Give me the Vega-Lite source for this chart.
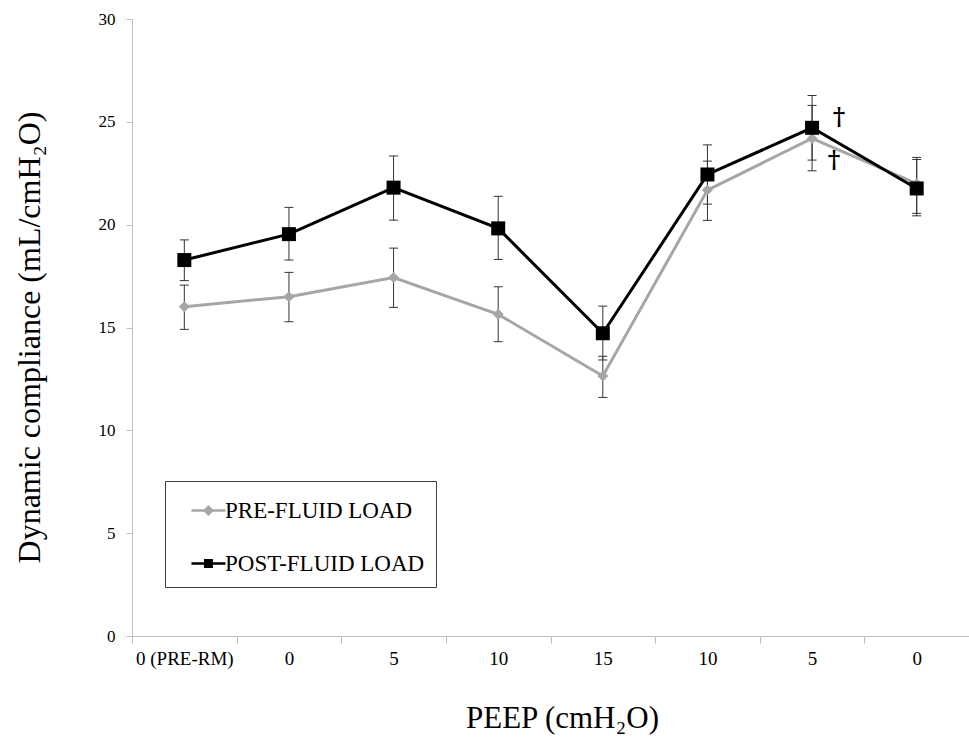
{
  "$schema": "https://vega.github.io/schema/vega-lite/v6.json",
  "width": 837,
  "height": 617,
  "autosize": {"type": "none"},
  "padding": {"left": 132, "top": 19, "right": 0, "bottom": 102},
  "background": "white",
  "config": {
    "view": {"stroke": null},
    "axis": {
      "labelFont": "Liberation Serif",
      "titleFont": "Liberation Serif",
      "labelColor": "#000000",
      "titleColor": "#000000",
      "domainColor": "#bfbfbf",
      "tickColor": "#bfbfbf",
      "grid": false,
      "titleFontWeight": "normal"
    },
    "axisY": {
      "labelFontSize": 17,
      "tickSize": 6,
      "labelPadding": 11,
      "titleFontSize": 32,
      "titleAngle": -90,
      "titleX": -93,
      "titleY": 318,
      "titleAlign": "center",
      "titleBaseline": "alphabetic"
    },
    "axisX": {
      "labelFontSize": 19,
      "tickSize": 7,
      "labelPadding": 6,
      "labelAngle": 0,
      "titleFontSize": 31,
      "titleX": 430,
      "titleY": 91,
      "titleAlign": "center",
      "titleBaseline": "alphabetic",
      "tickBand": "extent"
    }
  },
  "datasets": {
    "main": [
      {"step": 1, "series": "PRE-FLUID LOAD", "value": 16.01, "lo": 14.91, "hi": 17.06},
      {"step": 2, "series": "PRE-FLUID LOAD", "value": 16.5, "lo": 15.28, "hi": 17.68},
      {"step": 3, "series": "PRE-FLUID LOAD", "value": 17.43, "lo": 15.98, "hi": 18.86},
      {"step": 4, "series": "PRE-FLUID LOAD", "value": 15.64, "lo": 14.31, "hi": 16.98},
      {"step": 5, "series": "PRE-FLUID LOAD", "value": 12.64, "lo": 11.6, "hi": 13.6},
      {"step": 6, "series": "PRE-FLUID LOAD", "value": 21.68, "lo": 20.21, "hi": 23.09},
      {"step": 7, "series": "PRE-FLUID LOAD", "value": 24.19, "lo": 22.62, "hi": 25.8},
      {"step": 8, "series": "PRE-FLUID LOAD", "value": 22.0, "lo": 20.43, "hi": 23.27},
      {"step": 1, "series": "POST-FLUID LOAD", "value": 18.28, "lo": 17.28, "hi": 19.26},
      {"step": 2, "series": "POST-FLUID LOAD", "value": 19.54, "lo": 18.28, "hi": 20.84},
      {"step": 3, "series": "POST-FLUID LOAD", "value": 21.8, "lo": 20.22, "hi": 23.34},
      {"step": 4, "series": "POST-FLUID LOAD", "value": 19.82, "lo": 18.31, "hi": 21.38},
      {"step": 5, "series": "POST-FLUID LOAD", "value": 14.72, "lo": 13.42, "hi": 16.04},
      {"step": 6, "series": "POST-FLUID LOAD", "value": 22.44, "lo": 21.0, "hi": 23.88},
      {"step": 7, "series": "POST-FLUID LOAD", "value": 24.71, "lo": 23.14, "hi": 26.28},
      {"step": 8, "series": "POST-FLUID LOAD", "value": 21.76, "lo": 20.55, "hi": 23.17}
    ],
    "marks": [
      {"step": 7, "series": "POST-FLUID LOAD", "value": 25.18, "text": "†"},
      {"step": 7, "series": "PRE-FLUID LOAD", "value": 23.11, "text": "†"}
    ]
  },
  "data": {"name": "main"},
  "encoding": {
    "x": {
      "field": "step",
      "type": "ordinal",
      "scale": {"type": "band", "paddingInner": 0, "paddingOuter": 0},
      "axis": {
        "title": "PEEP (cmH₂O)",
        "labelExpr": "['0 (PRE-RM)','0','5','10','15','10','5','0'][datum.value-1]"
      }
    }
  },
  "layer": [
    {
      "mark": {"type": "errorbar", "ticks": {"size": 9, "color": "#333333", "thickness": 1, "opacity": 1}, "rule": {"color": "#333333", "strokeWidth": 1, "opacity": 1}, "color": "#333333", "opacity": 1},
      "encoding": {
        "y": {"field": "lo", "type": "quantitative", "scale": {"domain": [0, 30]}, "axis": {"title": "Dynamic compliance (mL/cmH₂O)", "values": [0, 5, 10, 15, 20, 25, 30]}},
        "y2": {"field": "hi"}
      }
    },
    {
      "transform": [{"filter": "datum.series == 'PRE-FLUID LOAD'"}],
      "mark": {"type": "line", "strokeWidth": 3},
      "encoding": {
        "y": {"field": "value", "type": "quantitative", "scale": {"domain": [0, 30]}, "axis": {"title": "Dynamic compliance (mL/cmH₂O)", "values": [0, 5, 10, 15, 20, 25, 30]}},
        "color": {
          "field": "series",
          "type": "nominal",
          "scale": {"domain": ["PRE-FLUID LOAD", "POST-FLUID LOAD"], "range": ["#a6a6a6", "#000000"]},
          "legend": {
            "orient": "none",
            "legendX": 33,
            "legendY": 462,
            "title": null,
            "labelFont": "Liberation Serif",
            "labelFontSize": 23,
            "labelColor": "#000000",
            "labelLimit": 0,
            "symbolSize": 1156,
            "labelOffset": 12,
            "padding": 11,
            "rowPadding": 22,
            "strokeColor": "#404040",
            "fillColor": "#ffffff",
            "encode": {
              "symbols": {
                "update": {
                  "shape": {"signal": "datum.value == 'PRE-FLUID LOAD' ? 'M-0.18,0H1.82M0.82,-0.22L1.04,0L0.82,0.22L0.6,0Z' : 'M-0.18,0H1.82M0.63,-0.19H1.01V0.19H0.63Z'"},
                  "stroke": {"signal": "datum.value == 'PRE-FLUID LOAD' ? '#a6a6a6' : '#000000'"},
                  "fill": {"signal": "datum.value == 'PRE-FLUID LOAD' ? '#a6a6a6' : '#000000'"},
                  "strokeWidth": {"value": 2.5},
                  "opacity": {"value": 1},
                  "fillOpacity": {"value": 1},
                  "strokeOpacity": {"value": 1}
                }
              }
            }
          }
        }
      }
    },
    {
      "transform": [{"filter": "datum.series == 'PRE-FLUID LOAD'"}],
      "mark": {"type": "point", "shape": "diamond", "filled": true, "color": "#a6a6a6", "size": 121, "opacity": 1},
      "encoding": {
        "y": {"field": "value", "type": "quantitative"}
      }
    },
    {
      "transform": [{"filter": "datum.series == 'POST-FLUID LOAD'"}],
      "mark": {"type": "line", "strokeWidth": 3},
      "encoding": {
        "y": {"field": "value", "type": "quantitative"},
        "color": {
          "field": "series",
          "type": "nominal",
          "scale": {"domain": ["PRE-FLUID LOAD", "POST-FLUID LOAD"], "range": ["#a6a6a6", "#000000"]}
        }
      }
    },
    {
      "transform": [{"filter": "datum.series == 'POST-FLUID LOAD'"}],
      "mark": {"type": "point", "shape": "square", "filled": true, "color": "#000000", "size": 196, "opacity": 1},
      "encoding": {
        "y": {"field": "value", "type": "quantitative"}
      }
    },
    {
      "data": {"name": "marks"},
      "transform": [{"filter": "datum.series == 'POST-FLUID LOAD'"}],
      "mark": {"type": "text", "dx": 27, "font": "DejaVu Serif", "fontSize": 24, "fontWeight": "bold", "color": "#000000", "baseline": "middle"},
      "encoding": {
        "y": {"field": "value", "type": "quantitative"},
        "text": {"field": "text"}
      }
    },
    {
      "data": {"name": "marks"},
      "transform": [{"filter": "datum.series == 'PRE-FLUID LOAD'"}],
      "mark": {"type": "text", "dx": 22, "font": "DejaVu Serif", "fontSize": 24, "fontWeight": "bold", "color": "#000000", "baseline": "middle"},
      "encoding": {
        "y": {"field": "value", "type": "quantitative"},
        "text": {"field": "text"}
      }
    }
  ]
}
